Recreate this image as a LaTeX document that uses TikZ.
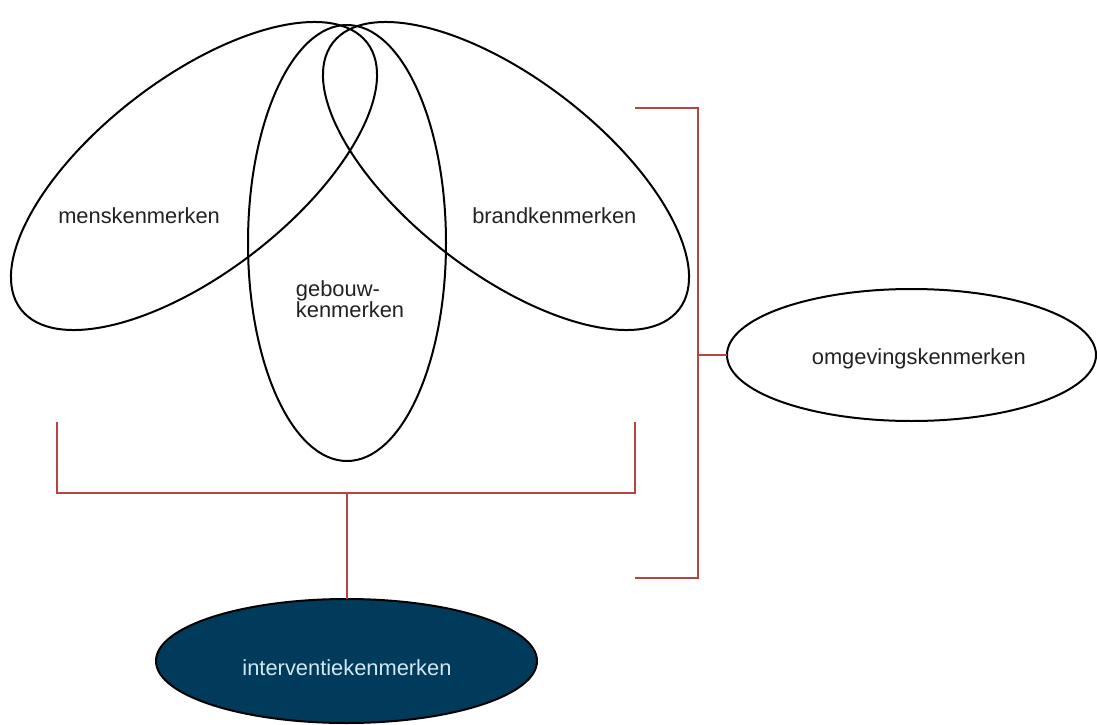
\documentclass[tikz,border=0pt]{standalone}
\usepackage{fontspec}
\setmainfont{Liberation Sans}
\usetikzlibrary{shapes.geometric}
\definecolor{bracketred}{HTML}{B5453F}
\definecolor{deepblue}{HTML}{003B5C}
\definecolor{paleblue}{HTML}{CFE8F2}
\definecolor{labelgray}{HTML}{222222}
\tikzset{
  venn/.style={ellipse, draw=black, line width=1.5pt, inner sep=0pt, outer sep=0pt},
  lbl/.style={font=\fontsize{16.4pt}{16.4pt}\selectfont, text=labelgray, inner sep=0pt, anchor=base west},
  bracket/.style={draw=bracketred, line width=1.5pt},
}
\begin{document}
\begin{tikzpicture}[x=0.75pt,y=-0.75pt]
\useasboundingbox (0,0) rectangle (1097,725);
% Venn ellipses
\node[venn, minimum width={437*0.75pt}, minimum height={194.6*0.75pt}, rotate=37.6] (mens) at (194,176) {};
\node[venn, minimum width={437*0.75pt}, minimum height={194.6*0.75pt}, rotate=-37.6] (brand) at (506,176) {};
\node[venn, minimum width={198*0.75pt}, minimum height={436*0.75pt}] (gebouw) at (347,243) {};
% other ellipses
\node[venn, minimum width={369*0.75pt}, minimum height={132*0.75pt}] (omg) at (911.5,355) {};
\node[venn, fill=deepblue, minimum width={381*0.75pt}, minimum height={124*0.75pt}] (interv) at (346.5,661) {};
% labels
\node[lbl] (menslbl) at (58,223.3) {menskenmerken};
\node[lbl] (brandlbl) at (472,223.3) {brandkenmerken};
\node[lbl] (gebouwlblA) at (295.7,296) {gebouw-};
\node[lbl] (gebouwlblB) at (295.7,317.7) {kenmerken};
\node[lbl, anchor=base] (omglbl) at (918.8,364) {omgevingskenmerken};
\node[lbl, anchor=base, text=paleblue] (intervlbl) at (347,675.7) {interventiekenmerken};
% bracket coordinates
\coordinate (LT) at (57,421.7);
\coordinate (LB) at (57,492.7);
\coordinate (RT) at (635,421.7);
\coordinate (RB) at (635,492.7);
\coordinate (MB) at (346.5,492.7);
\coordinate (OT1) at (635,108);
\coordinate (OT2) at (697.7,108);
\coordinate (OB2) at (697.7,577.7);
\coordinate (OB1) at (635,577.7);
\coordinate (OM) at (697.7,355);
% brackets
\draw[bracket] (LT) -- (LB) -- (RB) -- (RT);
\draw[bracket] (MB) -- (interv.north);
\draw[bracket] (OT1) -- (OT2) -- (OB2) -- (OB1);
\draw[bracket] (OM) -- (omg.west);
\end{tikzpicture}
\end{document}
